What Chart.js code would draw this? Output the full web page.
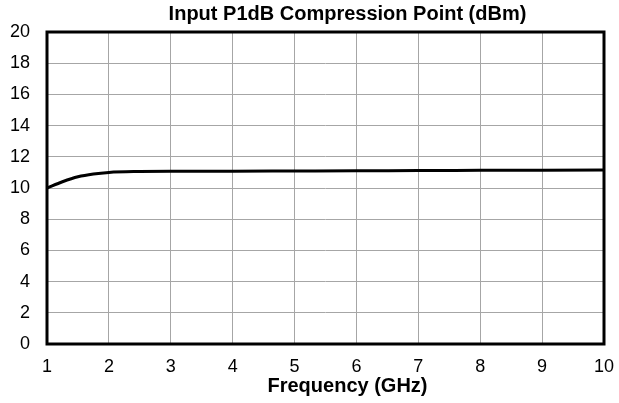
<!DOCTYPE html>
<html>
<head>
<meta charset="utf-8">
<script src="https://cdn.jsdelivr.net/npm/chart.js@4/dist/chart.umd.min.js"></script>
<style>
  html, body { margin: 0; padding: 0; background: #fff; }
  #wrap { width: 619px; height: 403px; }
</style>
</head>
<body>
<div id="wrap"><canvas id="p1db"></canvas></div>
<script>
'use strict';

// ===== data =====
const freqGHz = [1, 1.25, 1.5, 1.75, 2, 2.5, 3, 4, 5, 6, 7, 8, 9, 10];
const p1dbIn = [10.0, 10.4, 10.72, 10.9, 11.0, 11.06, 11.08, 11.08, 11.09, 11.1, 11.12, 11.13, 11.14, 11.15];
const xTicks = [1, 2, 3, 4, 5, 6, 7, 8, 9, 10];
const yTicks = [0, 2, 4, 6, 8, 10, 12, 14, 16, 18, 20];
const chartTitle = 'Input P1dB Compression Point (dBm)';
const xTitle = 'Frequency (GHz)';

const FONT = '"Liberation Sans", Arial, Helvetica, sans-serif';

const points = freqGHz.map((f, i) => ({ x: f, y: p1dbIn[i] }));

// frame round the plot + the two titles
const framePlugin = {
    id: 'frame',
    afterDatasetsDraw(chart) {
        const { ctx, chartArea: a } = chart;
        ctx.save();
        ctx.strokeStyle = '#000';
        ctx.lineWidth = 3;
        ctx.strokeRect(a.left, a.top, a.right - a.left, a.bottom - a.top);
        ctx.restore();
    },
    afterDraw(chart) {
        const { ctx, chartArea: a } = chart;
        const mid = (a.left + a.right) / 2 + 22;
        ctx.save();
        ctx.fillStyle = '#000';
        ctx.font = 'bold 20px ' + FONT;
        ctx.textAlign = 'center';
        ctx.textBaseline = 'middle';
        ctx.fillText(chartTitle, mid, 14);
        ctx.fillText(xTitle, mid, 386);
        ctx.restore();
    }
};

new Chart(document.getElementById('p1db'), {
    type: 'scatter',
    data: {
        datasets: [{
            data: points,
            showLine: true,
            borderColor: '#000',
            borderWidth: 3,
            pointRadius: 0,
            cubicInterpolationMode: 'monotone',
            clip: false
        }]
    },
    options: {
        responsive: true,
        maintainAspectRatio: false,
        animation: false,
        layout: { padding: { left: 0, right: 15, top: 32, bottom: 0 } },
        plugins: {
            legend: { display: false },
            tooltip: { enabled: false },
            title: { display: false }
        },
        scales: {
            x: {
                type: 'linear',
                min: 1,
                max: 10,
                afterBuildTicks: (s) => { s.ticks = xTicks.map(v => ({ value: v })); },
                afterFit: (s) => { s.height = 59; s.paddingLeft = 0; s.paddingRight = 0; },
                grid: { color: '#a6a6a6', lineWidth: 1, drawTicks: false },
                border: { display: false },
                ticks: {
                    color: '#000',
                    padding: 12,
                    font: { family: FONT, size: 18 }
                }
            },
            y: {
                min: 0,
                max: 20,
                afterBuildTicks: (s) => { s.ticks = yTicks.map(v => ({ value: v })); },
                afterFit: (s) => { s.width = 47; s.paddingTop = 0; s.paddingBottom = 0; },
                grid: { color: '#a6a6a6', lineWidth: 1, drawTicks: false },
                border: { display: false },
                ticks: {
                    color: '#000',
                    padding: 17,
                    font: { family: FONT, size: 18 }
                }
            }
        }
    },
    plugins: [framePlugin]
});
</script>
</body>
</html>
